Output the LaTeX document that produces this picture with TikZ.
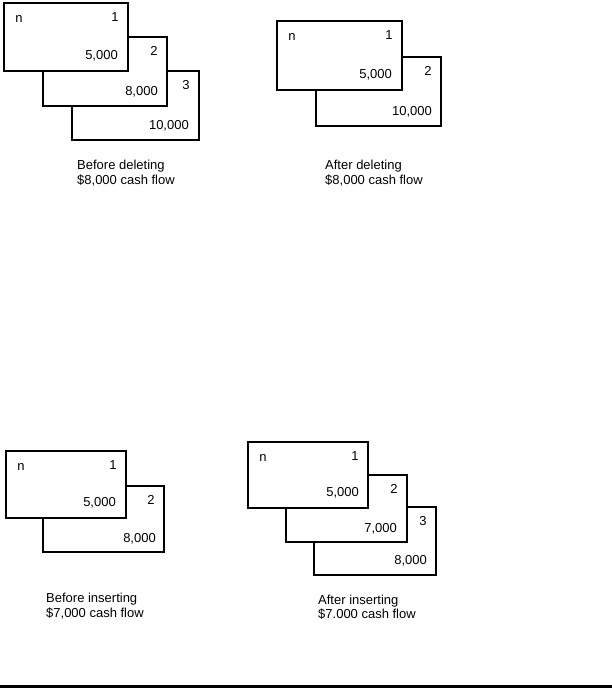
\documentclass[tikz,border=0pt]{standalone}
\usepackage{fontspec}
\setmainfont{Liberation Sans}

\begin{document}
\begin{tikzpicture}[x=1bp,y=-1bp,
  every node/.style={font=\fontsize{13bp}{14.5bp}\selectfont},
  card/.style={draw,fill=white,line width=1.6bp,inner sep=0,outer sep=0,anchor=north west},
  lbl/.style={inner sep=0},
  val/.style={inner sep=0,anchor=east},
  capt/.style={inner sep=0,anchor=base west,align=left}]

\useasboundingbox (0,0) rectangle (612,688);

% before deleting
\node [card,minimum width=127bp,minimum height=69bp] (d3) at (72,71) {};
\node [card,minimum width=124bp,minimum height=69bp] (d2) at (43,37) {};
\node [card,minimum width=124bp,minimum height=68bp] (d1) at (4,3) {};

\node [lbl] (d1n) at ([shift={(15,16)}]d1.north west) {n};
\node [lbl] (d1k) at ([shift={(-13,14)}]d1.north east) {1};
\node [val] (d1v) at ([shift={(-10,-15)}]d1.south east) {5,000};
\node [lbl] (d2k) at ([shift={(-13,14)}]d2.north east) {2};
\node [val] (d2v) at ([shift={(-9,-14)}]d2.south east) {8,000};
\node [lbl] (d3k) at ([shift={(-13,14)}]d3.north east) {3};
\node [val] (d3v) at ([shift={(-10,-14)}]d3.south east) {10,000};

\node [capt] (dcap) at (77,184) {Before deleting\\\$8,000 cash flow};

% after deleting
\node [card,minimum width=125bp,minimum height=69bp] (e2) at (316,57) {};
\node [card,minimum width=125bp,minimum height=69bp] (e1) at (277,21) {};

\node [lbl] (e1n) at ([shift={(15,16)}]e1.north west) {n};
\node [lbl] (e1k) at ([shift={(-13,14)}]e1.north east) {1};
\node [val] (e1v) at ([shift={(-10,-15)}]e1.south east) {5,000};
\node [lbl] (e2k) at ([shift={(-13,14)}]e2.north east) {2};
\node [val] (e2v) at ([shift={(-9,-14)}]e2.south east) {10,000};

\node [capt] (ecap) at (325,184) {After deleting\\\$8,000 cash flow};

% before inserting
\node [card,minimum width=121bp,minimum height=66bp] (b2) at (43,486) {};
\node [card,minimum width=120bp,minimum height=67bp] (b1) at (6,451) {};

\node [lbl] (b1n) at ([shift={(15,16)}]b1.north west) {n};
\node [lbl] (b1k) at ([shift={(-13,14)}]b1.north east) {1};
\node [val] (b1v) at ([shift={(-10,-15)}]b1.south east) {5,000};
\node [lbl] (b2k) at ([shift={(-13,14)}]b2.north east) {2};
\node [val] (b2v) at ([shift={(-8,-13)}]b2.south east) {8,000};

\node [capt] (bcap) at (46,617) {Before inserting\\\$7,000 cash flow};

% after inserting
\node [card,minimum width=122bp,minimum height=68bp] (a3) at (314,507) {};
\node [card,minimum width=121bp,minimum height=67bp] (a2) at (286,475) {};
\node [card,minimum width=120bp,minimum height=66bp] (a1) at (248,442) {};

\node [lbl] (a1n) at ([shift={(15,16)}]a1.north west) {n};
\node [lbl] (a1k) at ([shift={(-13,14)}]a1.north east) {1};
\node [val] (a1v) at ([shift={(-9,-15)}]a1.south east) {5,000};
\node [lbl] (a2k) at ([shift={(-13,14)}]a2.north east) {2};
\node [val] (a2v) at ([shift={(-10,-13)}]a2.south east) {7,000};
\node [lbl] (a3k) at ([shift={(-13,14)}]a3.north east) {3};
\node [val] (a3v) at ([shift={(-9,-14)}]a3.south east) {8,000};

\node [capt] (acap) at (318,618.5) {After inserting\\\$7.000 cash flow};

\draw [line width=2.6bp] (0,686.7) -- (612,686.7);

\end{tikzpicture}
\end{document}
